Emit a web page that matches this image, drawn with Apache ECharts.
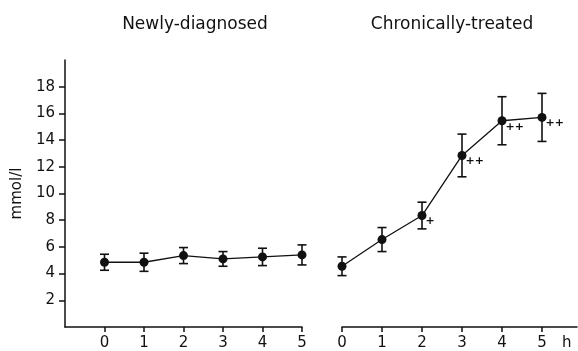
<!DOCTYPE html>
<html>
<head>
<meta charset="utf-8">
<script src="https://cdn.jsdelivr.net/npm/echarts@6/dist/echarts.min.js"></script>
<style>
  html, body { margin: 0; padding: 0; background: #fff; }
  #chart { width: 578px; height: 351px; }
</style>
</head>
<body>
<div id="chart"></div>
<script>
// hours after dose
const hours = [0, 1, 2, 3, 4, 5];
// tick positions
const xTicks = [0, 1, 2, 3, 4, 5];
const yTicks = [2, 4, 6, 8, 10, 12, 14, 16, 18];

// Newly-diagnosed: mean and error half-width (mmol/l)
const newMean = [4.85, 4.85, 5.35, 5.1, 5.25, 5.4];
const newErr = [0.6, 0.68, 0.6, 0.55, 0.65, 0.75];

// Chronically-treated
const chronMean = [4.55, 6.55, 8.35, 12.85, 15.45, 15.7];
const chronErr = [0.7, 0.9, 1.0, 1.6, 1.8, 1.8];
// significance marks
const chronMarks = ['', '', '+', '++', '++', '++'];

const ink = '#111';
const font = 'DejaVu Sans';

const chart = echarts.init(document.getElementById('chart'));

//误差线
const renderErrorBar = (params, api) => {
    const x = api.value(0);
    const top = api.coord([x, api.value(2)]);
    const bot = api.coord([x, api.value(1)]);
    const cap = 4.5;
    const style = {stroke: ink, lineWidth: 1.6};
    return {
        type: 'group',
        children: [
            {type: 'line', shape: {x1: top[0], y1: top[1], x2: bot[0], y2: bot[1]}, style},
            {type: 'line', shape: {x1: top[0] - cap, y1: top[1], x2: top[0] + cap, y2: top[1]}, style},
            {type: 'line', shape: {x1: bot[0] - cap, y1: bot[1], x2: bot[0] + cap, y2: bot[1]}, style}
        ]
    };
};

const toPairs = (mean) => hours.map((h, i) => [h, mean[i]]);
const toBars = (mean, err) => hours.map((h, i) => [h, mean[i] - err[i], mean[i] + err[i]]);

const xAxisBase = {
    type: 'value',
    interval: 1,
    splitLine: {show: false},
    axisLine: {show: true, onZero: false, lineStyle: {color: ink, width: 1.5}},
    axisTick: {show: true, customValues: xTicks, length: 5, lineStyle: {color: ink, width: 1.5}},
    axisLabel: {customValues: xTicks, color: ink, fontSize: 15, fontFamily: font, margin: 9}
};

chart.setOption({
    animation: false,
    title: [
        {text: 'Newly-diagnosed', left: 190, top: 11, textAlign: 'center',
         textStyle: {fontSize: 17, fontWeight: 'normal', color: ink, fontFamily: font}},
        {text: 'Chronically-treated', left: 447, top: 11, textAlign: 'center',
         textStyle: {fontSize: 17, fontWeight: 'normal', color: ink, fontFamily: font}}
    ],
    grid: [
        {left: 65, top: 60, width: 237, bottom: 24},
        {left: 342, top: 60, width: 235, bottom: 24}
    ],
    xAxis: [
        Object.assign({}, xAxisBase, {gridIndex: 0, min: -1, max: 5}),
        Object.assign({}, xAxisBase, {
            gridIndex: 1, min: 0, max: 5.875,
            name: 'h', nameLocation: 'end', nameGap: -15,
            nameTextStyle: {color: ink, fontSize: 15, fontFamily: font, verticalAlign: 'top', padding: [9, 0, 0, 0]}
        })
    ],
    yAxis: [
        {
            type: 'value', gridIndex: 0, min: 0, max: 20, interval: 2,
            splitLine: {show: false},
            axisLine: {show: true, onZero: false, lineStyle: {color: ink, width: 1.5}},
            axisTick: {show: true, customValues: yTicks, length: 6, lineStyle: {color: ink, width: 1.5}},
            axisLabel: {customValues: yTicks, color: ink, fontSize: 15, fontFamily: font, margin: 10},
            name: 'mmol/l', nameLocation: 'middle', nameGap: 40,
            nameTextStyle: {color: ink, fontSize: 15, fontFamily: font}
        },
        {
            type: 'value', gridIndex: 1, min: 0, max: 20, interval: 2, show: false
        }
    ],
    series: [
        {
            type: 'custom', xAxisIndex: 0, yAxisIndex: 0,
            renderItem: renderErrorBar,
            data: toBars(newMean, newErr), z: 3
        },
        {
            type: 'line', xAxisIndex: 0, yAxisIndex: 0,
            data: toPairs(newMean),
            symbol: 'circle', symbolSize: 9,
            itemStyle: {color: ink},
            lineStyle: {color: ink, width: 1.3}, z: 4
        },
        {
            type: 'custom', xAxisIndex: 1, yAxisIndex: 1,
            renderItem: renderErrorBar,
            data: toBars(chronMean, chronErr), z: 3
        },
        {
            type: 'line', xAxisIndex: 1, yAxisIndex: 1,
            data: toPairs(chronMean),
            symbol: 'circle', symbolSize: 9,
            itemStyle: {color: ink},
            lineStyle: {color: ink, width: 1.3}, z: 4,
            label: {
                show: true, position: 'right', distance: 0, offset: [-1, 6],
                formatter: (p) => chronMarks[p.dataIndex],
                color: ink, fontSize: 11, fontWeight: 'bold', fontFamily: font
            }
        }
    ]
});
</script>
</body>
</html>
